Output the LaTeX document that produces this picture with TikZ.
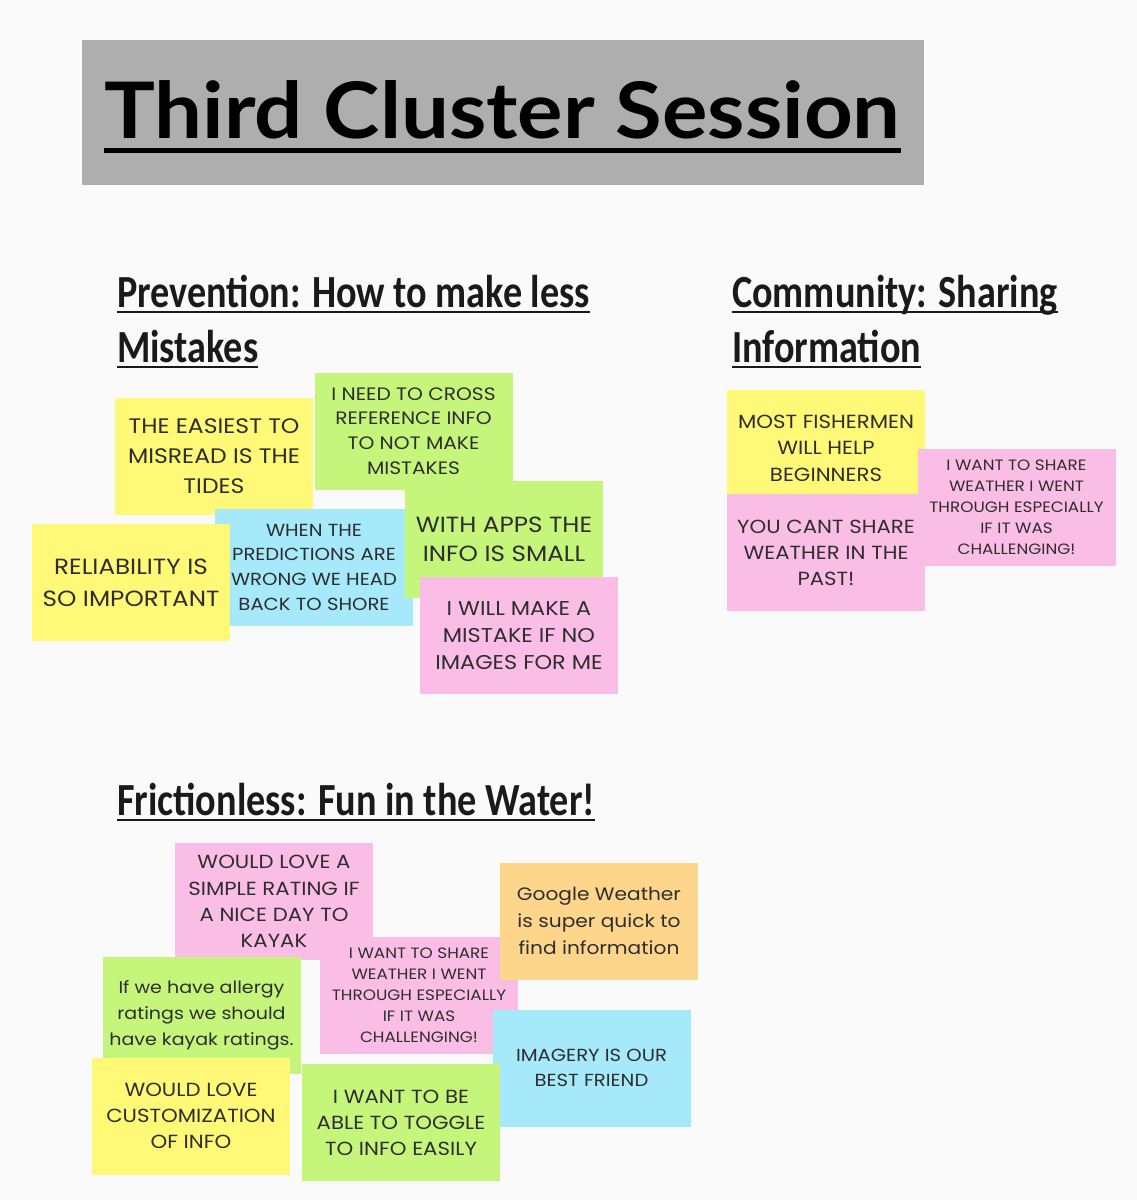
\documentclass[tikz,border=0pt]{standalone}
\usepackage{fontspec}
\newfontfamily\titlefont{Lato}[FakeStretch=1.09]
\newfontfamily\notefont{Poppins}[FakeStretch=1.12]
\newfontfamily\headfont{Carlito}[FakeStretch=0.83]
\newcommand\ns[2]{\notefont\fontsize{#1}{#2}\selectfont}
\definecolor{paper}{HTML}{FAFAFA}
\definecolor{banner}{HTML}{AEAEAE}
\definecolor{noteyellow}{HTML}{FFF977}
\definecolor{notegreen}{HTML}{C6F57C}
\definecolor{noteblue}{HTML}{A5E9FA}
\definecolor{notepink}{HTML}{FABEE6}
\definecolor{noteorange}{HTML}{FDD68C}
\definecolor{notetext}{HTML}{2E2E2E}
\definecolor{headtext}{HTML}{1A1A1A}

\begin{document}
\begin{tikzpicture}[x=1pt, y=-1pt,
		note/.style={minimum width=198pt, minimum height=117pt, inner sep=0pt, align=center, text=notetext},
		heading/.style={anchor=base west, inner sep=0pt, text=headtext, font=\headfont\bfseries\fontsize{46}{46}\selectfont},
		uline/.style={line width=2.5pt, headtext}]
		\useasboundingbox (0,0) rectangle (1137,1200);
		\fill[paper] (0,0) rectangle (1137,1200);

		% title banner
		\node[fill=banner, minimum width=842pt, minimum height=145pt, inner sep=0pt] (banner) at (503,112.5) {};
		\node[inner sep=0pt, anchor=base, font=\titlefont\bfseries\fontsize{78}{78}\selectfont] (ttl) at (502.5,138) {Third Cluster Session};
		\draw[line width=5pt] ([yshift=-12pt]ttl.base west) -- ([yshift=-12pt]ttl.base east);

		% cluster headings
		\node[heading] (prev1) at (117,307) {Prevention: How to make less};
		\node[heading] (prev2) at (117,362) {Mistakes};
		\node[heading] (comm1) at (732,307) {Community: Sharing};
		\node[heading] (comm2) at (732,362) {Information};
		\node[heading] (fric) at (117,815) {Frictionless: Fun in the Water!};
		\foreach \h in {prev1,prev2,comm1,comm2,fric}
			\draw[uline] ([yshift=-5pt]\h.base west) -- ([yshift=-5pt]\h.base east);

		% prevention
		\node[note, fill=noteyellow, font=\ns{21}{30}] (easiest) at (214,456.5) {THE EASIEST TO\\MISREAD IS THE\\TIDES};
		\node[note, fill=notegreen, font=\ns{18}{24.7}] (cross) at (413.5,431) {I NEED TO CROSS\\REFERENCE INFO\\TO NOT MAKE\\MISTAKES};
		\node[note, fill=noteblue, font=\ns{17.5}{24.7}] (wrong) at (314,567) {WHEN THE\\PREDICTIONS ARE\\WRONG WE HEAD\\BACK TO SHORE};
		\node[note, fill=noteyellow, font=\ns{22}{32}] (reliable) at (131,582.5) {RELIABILITY IS\\SO IMPORTANT};
		\node[note, fill=notegreen, font=\ns{22}{29}] (apps) at (504,539) {WITH APPS THE\\INFO IS SMALL};
		\node[note, fill=notepink, font=\ns{20}{27}] (images) at (519,635.5) {I WILL MAKE A\\MISTAKE IF NO\\IMAGES FOR ME};

		% community
		\node[note, fill=noteyellow, font=\ns{19}{26.5}] (fishers) at (826,448) {MOST FISHERMEN\\WILL HELP\\BEGINNERS};
		\node[note, fill=notepink, font=\ns{19}{26}] (past) at (826,552.5) {YOU CANT SHARE\\WEATHER IN THE\\PAST!};
		\node[note, fill=notepink, font=\ns{15}{21}] (shareA) at (1016.5,507.5) {I WANT TO SHARE\\WEATHER I WENT\\THROUGH ESPECIALLY\\IF IT WAS\\CHALLENGING!};

		% frictionless
		\node[note, fill=notepink, font=\ns{19}{26.3}] (rating) at (274,901.5) {WOULD LOVE A\\SIMPLE RATING IF\\A NICE DAY TO\\KAYAK};
		\node[note, fill=notepink, font=\ns{15}{21}] (shareB) at (419,995) {I WANT TO SHARE\\WEATHER I WENT\\THROUGH ESPECIALLY\\IF IT WAS\\CHALLENGING!};
		\node[note, fill=noteorange, font=\ns{18}{27}] (google) at (599,921) {Google Weather\\is super quick to\\find information};
		\node[note, fill=notegreen, font=\ns{17}{26}] (allergy) at (201.5,1015.5) {If we have allergy\\ratings we should\\have kayak ratings.};
		\node[note, fill=noteyellow, font=\ns{19}{26}] (custom) at (191,1116) {WOULD LOVE\\CUSTOMIZATION\\OF INFO};
		\node[note, fill=noteblue, font=\ns{17.5}{25}] (imagery) at (591.5,1068) {IMAGERY IS OUR\\BEST FRIEND};
		\node[note, fill=notegreen, font=\ns{19}{26}] (toggle) at (401,1122.5) {I WANT TO BE\\ABLE TO TOGGLE\\TO INFO EASILY};
	\end{tikzpicture}
\end{document}
